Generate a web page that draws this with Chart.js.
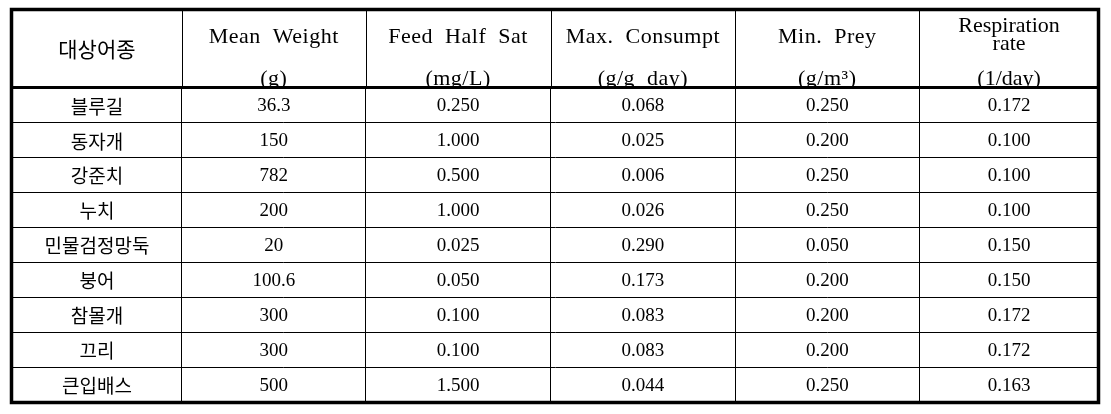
<!DOCTYPE html>
<html>
<head>
<meta charset="utf-8">
<script src="https://cdn.jsdelivr.net/npm/chart.js@4.4.1/dist/chart.umd.min.js"></script>
<style>
  body { margin: 0; background: #fff; }
  #wrap { width: 1111px; height: 414px; }
</style>
</head>
<body>
<div id="wrap"><canvas id="tbl"></canvas></div>
<script>
// table data
var species = ['블루길', '동자개', '강준치', '누치', '민물검정망둑', '붕어', '참몰개', '끄리', '큰입배스'];
var meanWeight = ['36.3', '150', '782', '200', '20', '100.6', '300', '300', '500'];
var feedHalfSat = ['0.250', '1.000', '0.500', '1.000', '0.025', '0.050', '0.100', '0.100', '1.500'];
var maxConsumpt = ['0.068', '0.025', '0.006', '0.026', '0.290', '0.173', '0.083', '0.083', '0.044'];
var minPrey = ['0.250', '0.200', '0.250', '0.250', '0.050', '0.200', '0.200', '0.200', '0.250'];
var respRate = ['0.172', '0.100', '0.100', '0.100', '0.150', '0.150', '0.172', '0.172', '0.163'];

// header text, one entry per column
var headers = [
    ['대상어종'],
    ['Mean  Weight', '(g)'],
    ['Feed  Half  Sat', '(mg/L)'],
    ['Max.  Consumpt', '(g/g  day)'],
    ['Min.  Prey', '(g/m³)'],
    ['Respiration', 'rate', '(1/day)']
];

// column widths (layout only)
var colWidths = [170, 184, 185, 185, 184, 180];
var colEdges = [0];
colWidths.forEach(function(w) { colEdges.push(colEdges[colEdges.length - 1] + w); });

var columns = [species, meanWeight, feedHalfSat, maxConsumpt, minPrey, respRate];

var serif = '"Liberation Serif", "Noto Sans CJK KR", serif';
var korean = '"Noto Sans CJK KR", sans-serif';

var tablePlugin = {
    id: 'tableText',
    afterDraw: function(chart) {
        var ctx = chart.ctx;
        var xs = chart.scales.x;
        var ys = chart.scales.y;
        var area = chart.chartArea;
        var top = 10;

        ctx.save();
        // header column separators
        ctx.strokeStyle = '#000';
        ctx.lineWidth = 1;
        for (var i = 1; i < colEdges.length - 1; i++) {
            var px = Math.round(xs.getPixelForValue(colEdges[i])) + 0.5;
            ctx.beginPath();
            ctx.moveTo(px, top);
            ctx.lineTo(px, area.top);
            ctx.stroke();
        }

        // header text
        ctx.fillStyle = '#000';
        ctx.textAlign = 'center';
        ctx.textBaseline = 'alphabetic';
        ctx.save();
        ctx.beginPath();
        ctx.rect(area.left, top, area.right - area.left, area.top - top - 1);
        ctx.clip();
        headers.forEach(function(lines, c) {
            var cx = (xs.getPixelForValue(colEdges[c]) + xs.getPixelForValue(colEdges[c + 1])) / 2;
            if (c === 0) {
                ctx.font = '21px ' + korean;
                ctx.letterSpacing = '0px';
                ctx.textBaseline = 'middle';
                ctx.fillText(lines[0], cx, 49);
                ctx.textBaseline = 'alphabetic';
            } else if (lines.length === 3) {
                ctx.font = '22px ' + serif;
                ctx.letterSpacing = '0px';
                ctx.fillText(lines[0], cx, 32);
                ctx.fillText(lines[1], cx, 50);
                ctx.fillText(lines[2], cx, 85);
            } else {
                ctx.font = '22px ' + serif;
                ctx.letterSpacing = '0.5px';
                ctx.fillText(lines[0], cx, 43);
                ctx.fillText(lines[1], cx, 85);
            }
        });
        ctx.restore();

        // body cells
        ctx.textBaseline = 'middle';
        columns.forEach(function(vals, c) {
            var cx = (xs.getPixelForValue(colEdges[c]) + xs.getPixelForValue(colEdges[c + 1])) / 2;
            ctx.font = c === 0 ? '19px ' + korean : '19px ' + serif;
            ctx.letterSpacing = '0px';
            vals.forEach(function(v, r) {
                ctx.fillText(v, cx, ys.getPixelForValue(r) + 1);
            });
        });

        // header bottom rule and outer frame
        ctx.lineWidth = 3;
        ctx.beginPath();
        ctx.moveTo(area.left, area.top - 0.5);
        ctx.lineTo(area.right, area.top - 0.5);
        ctx.stroke();
        ctx.lineWidth = 3.5;
        ctx.strokeRect(area.left - 0.5, top - 0.5, area.right - area.left, area.bottom - top + 1);
        ctx.restore();
    }
};

var chart = new Chart(document.getElementById('tbl'), {
    type: 'scatter',
    data: {
        datasets: [{ data: [] }]
    },
    options: {
        responsive: true,
        maintainAspectRatio: false,
        animation: false,
        events: [],
        layout: { padding: { left: 12, right: 12, top: 88, bottom: 12 } },
        plugins: {
            legend: { display: false },
            tooltip: { enabled: false }
        },
        scales: {
            x: {
                type: 'linear',
                min: 0,
                max: colEdges[colEdges.length - 1],
                afterBuildTicks: function(scale) {
                    scale.ticks = colEdges.map(function(v) { return { value: v }; });
                },
                ticks: { display: false },
                grid: { color: '#000', lineWidth: 1, drawTicks: false },
                border: { display: false }
            },
            y: {
                type: 'category',
                labels: species,
                offset: true,
                ticks: { display: false },
                grid: { offset: true, color: '#000', lineWidth: 1, drawTicks: false },
                border: { display: false }
            }
        }
    },
    plugins: [tablePlugin]
});
</script>
</body>
</html>
